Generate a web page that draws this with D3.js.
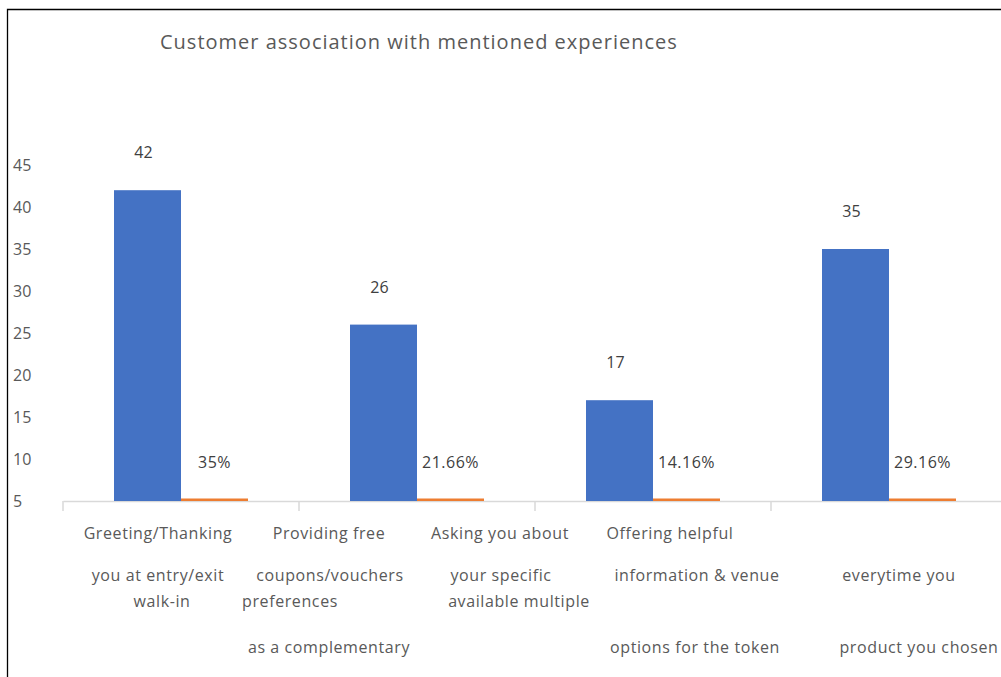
<!DOCTYPE html>
<html>
<head>
<meta charset="utf-8">
<script src="https://cdn.jsdelivr.net/npm/d3@7"></script>
<style>
  html, body { margin: 0; padding: 0; background: #fff; }
  svg { display: block; font-family: "Open Sans", "Liberation Sans", sans-serif; }
</style>
</head>
<body>
<svg id="chart" width="1001" height="677"></svg>
<script>
// ---- data ----
const categories = [
  "Greeting/Thanking you at entry/exit walk-in",
  "Providing free coupons/vouchers as a complementary",
  "Asking you about your specific preferences",
  "Offering helpful information & venue options for the token"
];
const seriesNames = ["Count", "Share"];
const countValues = [42, 26, 17, 35];
const shareValues = [0.35, 0.2166, 0.1416, 0.2916];
const yTicks = [5, 10, 15, 20, 25, 30, 35, 40, 45];
const titleText = "Customer association with mentioned experiences";
// wrapped axis-label lines, as they are laid out under each category
const labelLines = [
  ["Greeting/Thanking", "you at entry/exit", "walk-in"],
  ["Providing free", "coupons/vouchers", "preferences", "as a complementary"],
  ["Asking you about", "your specific", "available multiple"],
  ["Offering helpful", "information & venue", "options for the token", "everytime you", "product you chosen"]
];

// ---- layout ----
const svg = d3.select("#chart");
const plot = { left: 63, right: 1007, top: 165, bottom: 501 };
const colors = { Count: "#4472C4", Share: "#ED7D31" };
const textColor = "#595959";
const axisColor = "#D9D9D9";

// row / horizontal offset (from band centre) for each wrapped label line
const labelLayout = [
  [[0, -23], [1, -23], [2, -19]],
  [[0, -88], [1, -87], [2, -127], [3, -88]],
  [[0, -153], [1, -152], [2, -134]],
  [[0, -219], [1, -192], [3, -194], [1, 10], [3, 30]]
];
const rowY = [539, 581, 607, 653];

// outer frame (left and top edges)
svg.append("path")
  .attr("d", `M7.5,677 V9.5 H1001`)
  .attr("fill", "none").attr("stroke", "#000").attr("stroke-width", 1.3);

// title
svg.append("text")
  .attr("x", 160).attr("y", 49)
  .attr("fill", textColor)
  .attr("font-size", 20)
  .attr("letter-spacing", 1)
  .text(titleText);

// scales
const x0 = d3.scaleBand().domain(categories).range([plot.left, plot.right]).padding(0);
const x1 = d3.scaleBand().domain(seriesNames).range([51, 185]).padding(0);
const y = d3.scaleLinear().domain([5, 45]).range([plot.bottom, plot.top]).clamp(true);

// y tick labels (left aligned, no axis line)
svg.append("g").selectAll("text")
  .data(yTicks).join("text")
  .attr("x", 13)
  .attr("y", d => y(d))
  .attr("dy", "0.35em")
  .attr("fill", textColor)
  .attr("font-size", 16)
  .text(d => d);

// x axis baseline with ticks at band boundaries
const xAxis = d3.axisBottom(x0).tickSize(0).tickFormat("");
const gx = svg.append("g").attr("transform", `translate(0,${plot.bottom})`).call(xAxis);
gx.select(".domain").attr("stroke", axisColor).attr("stroke-width", 1.5);
const boundaries = categories.map(c => x0(c)).concat([plot.right]);
gx.selectAll("line.sep").data(boundaries).join("line")
  .attr("class", "sep")
  .attr("x1", d => d).attr("x2", d => d)
  .attr("y1", 0).attr("y2", 10)
  .attr("stroke", axisColor).attr("stroke-width", 1.5);

// bars
const rows = categories.map((c, i) => ({ cat: c, Count: countValues[i], Share: shareValues[i] }));
const groups = svg.append("g").selectAll("g")
  .data(rows).join("g")
  .attr("transform", d => `translate(${x0(d.cat)},0)`);

// count bars
groups.append("rect")
  .attr("x", x1("Count"))
  .attr("width", x1.bandwidth())
  .attr("y", d => y(d.Count))
  .attr("height", d => y(5) - y(d.Count))
  .attr("fill", colors.Count);

// share bars (fall below the axis minimum, so only a sliver shows)
groups.append("rect")
  .attr("x", x1("Share"))
  .attr("width", x1.bandwidth())
  .attr("y", d => Math.min(y(d.Share), y(5) - 2.5))
  .attr("height", d => Math.max(2.5, y(5) - y(d.Share)))
  .attr("fill", colors.Share);

// count labels
groups.append("text")
  .attr("x", x1("Count") + x1.bandwidth() / 2 - 4)
  .attr("y", d => y(d.Count) - 32)
  .attr("text-anchor", "middle")
  .attr("fill", "#404040")
  .attr("font-size", 16)
  .text(d => d.Count);

// share labels
const pct = d3.format(".2~%");
groups.append("text")
  .attr("x", x1("Share") + x1.bandwidth() / 2)
  .attr("y", d => Math.min(y(d.Share), y(5) - 2.5) - 31)
  .attr("text-anchor", "middle")
  .attr("fill", "#404040")
  .attr("font-size", 16)
  .attr("letter-spacing", 0.5)
  .text(d => pct(d.Share));

// wrapped category labels
categories.forEach((c, i) => {
  const cx = x0(c) + x0.bandwidth() / 2;
  labelLines[i].forEach((line, j) => {
    const [row, dx] = labelLayout[i][j];
    svg.append("text")
      .attr("x", cx + dx)
      .attr("y", rowY[row])
      .attr("text-anchor", "middle")
      .attr("fill", textColor)
      .attr("font-size", 16)
      .attr("letter-spacing", 0.6)
      .text(line);
  });
});
</script>
</body>
</html>
